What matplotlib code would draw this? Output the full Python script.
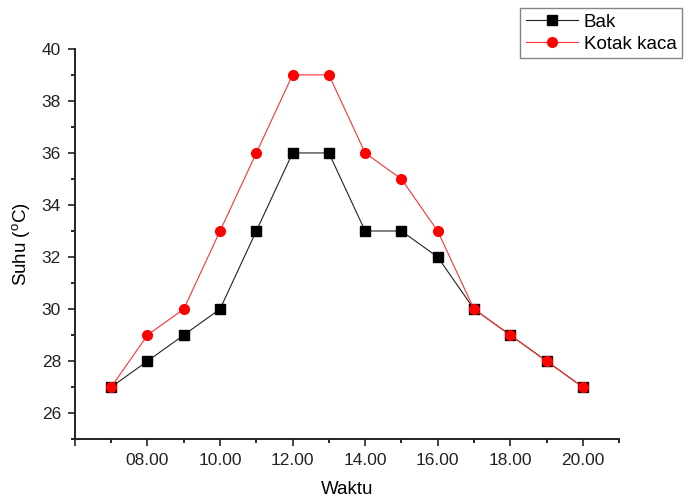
import matplotlib
matplotlib.use("Agg")
import matplotlib.pyplot as plt
from matplotlib.ticker import MultipleLocator, FixedLocator

plt.rcParams['font.family'] = ['Liberation Sans', 'DejaVu Sans']
plt.rcParams['mathtext.fontset'] = 'custom'
plt.rcParams['mathtext.rm'] = 'Liberation Sans'

# jam pengukuran dan suhu (°C)
jam = [7, 8, 9, 10, 11, 12, 13, 14, 15, 16, 17, 18, 19, 20]
suhu_bak = [27, 28, 29, 30, 33, 36, 36, 33, 33, 32, 30, 29, 28, 27]
suhu_kaca = [27, 29, 30, 33, 36, 39, 39, 36, 35, 33, 30, 29, 28, 27]

x_ticks = [6, 8, 10, 12, 14, 16, 18, 20]
x_labels = ["", "08.00", "10.00", "12.00", "14.00", "16.00", "18.00", "20.00"]

fig = plt.figure(figsize=(6.94, 4.99), dpi=100)
ax = fig.add_axes([0.108, 0.120, 0.784, 0.782])

ax.plot(jam, suhu_bak, color="#222222", lw=0.8, marker="s", ms=6.5,
        mfc="black", mec="black", label="Bak")
ax.plot(jam, suhu_kaca, color="#ff3333", lw=0.8, marker="o", ms=7,
        mfc="red", mec="red", label="Kotak kaca")

ax.set_xlim(6, 21)
ax.set_ylim(25, 40)
ax.xaxis.set_major_locator(FixedLocator(x_ticks))
ax.set_xticklabels(x_labels)
ax.xaxis.set_minor_locator(FixedLocator([7, 9, 11, 13, 15, 17, 19, 21]))
ax.yaxis.set_major_locator(MultipleLocator(2))
ax.yaxis.set_minor_locator(MultipleLocator(1))
ax.tick_params(which="major", direction="out", length=5, width=1.2,
               labelsize=12.5, colors="#222222", pad=5)
ax.tick_params(which="minor", direction="out", length=3, width=1.2)

for side in ("top", "right"):
    ax.spines[side].set_visible(False)
for side in ("left", "bottom"):
    ax.spines[side].set_linewidth(1.4)
    ax.spines[side].set_color("#222222")

ax.set_xlabel("Waktu", fontsize=13.5, labelpad=9)
ax.set_ylabel(r"Suhu ($^{\mathrm{o}}$C)", fontsize=13.5, labelpad=6)

leg = ax.legend(loc="upper left", bbox_to_anchor=(520 / 694, 1 - 8 / 499),
                bbox_transform=fig.transFigure, fontsize=13.5,
                frameon=True, fancybox=False, handlelength=2.8,
                borderpad=0.3, labelspacing=0.25, handletextpad=0.3,
                borderaxespad=0)
leg.get_frame().set_edgecolor("#666666")
leg.get_frame().set_linewidth(1.0)

fig.savefig("out.png", dpi=100)
